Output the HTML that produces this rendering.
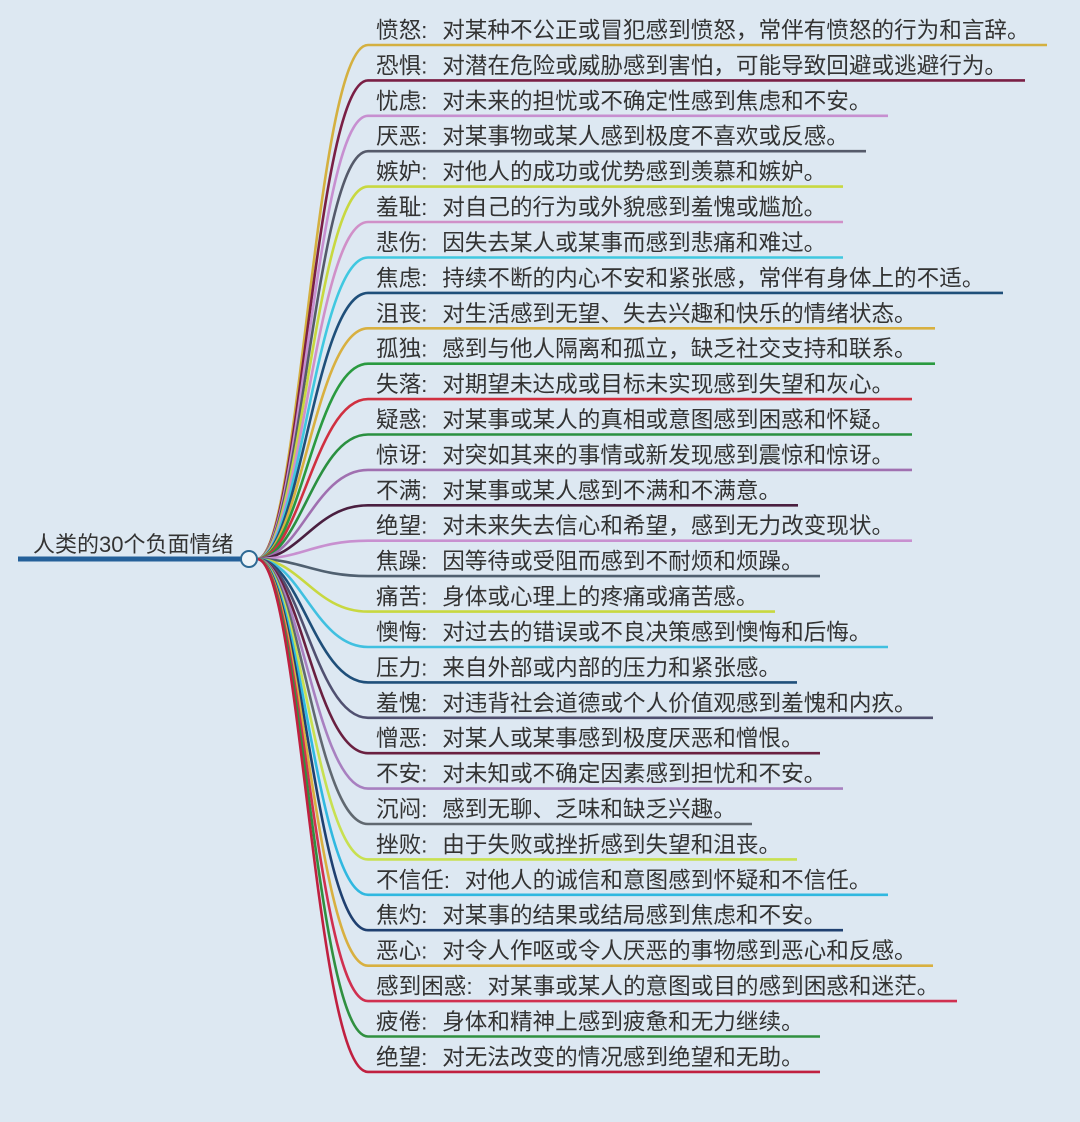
<!DOCTYPE html>
<html><head><meta charset="utf-8"><style>
html,body{margin:0;padding:0;background:#dde8f2;}
svg{display:block}
text{font-family:"Liberation Sans","Noto Sans CJK SC",sans-serif;fill:#333;}
</style></head><body>
<svg id="s" width="1080" height="1122" xmlns="http://www.w3.org/2000/svg">
<rect width="1080" height="1122" fill="#dde8f2"/>
<g id="g"></g>
<line x1="18" y1="559" x2="242" y2="559" stroke="#24609a" stroke-width="5"/>
<text x="33" y="552" font-size="22">人类的30个负面情绪</text>
<circle cx="249" cy="559" r="8" fill="#eef4f8" stroke="#2f6a94" stroke-width="2"/>
</svg>
<script>
var d=[
["愤怒","对某种不公正或冒犯感到愤怒，常伴有愤怒的行为和言辞。",1047,"#d4b040"],
["恐惧","对潜在危险或威胁感到害怕，可能导致回避或逃避行为。",1025,"#7a1f45"],
["忧虑","对未来的担忧或不确定性感到焦虑和不安。",888,"#c78fd0"],
["厌恶","对某事物或某人感到极度不喜欢或反感。",866,"#555a6a"],
["嫉妒","对他人的成功或优势感到羡慕和嫉妒。",843,"#c8d840"],
["羞耻","对自己的行为或外貌感到羞愧或尴尬。",843,"#d090c8"],
["悲伤","因失去某人或某事而感到悲痛和难过。",843,"#40c8e0"],
["焦虑","持续不断的内心不安和紧张感，常伴有身体上的不适。",1003,"#1f4f7a"],
["沮丧","对生活感到无望、失去兴趣和快乐的情绪状态。",935,"#d8b040"],
["孤独","感到与他人隔离和孤立，缺乏社交支持和联系。",935,"#2a9a40"],
["失落","对期望未达成或目标未实现感到失望和灰心。",912,"#d03040"],
["疑惑","对某事或某人的真相或意图感到困惑和怀疑。",912,"#2a9040"],
["惊讶","对突如其来的事情或新发现感到震惊和惊讶。",912,"#a070b0"],
["不满","对某事或某人感到不满和不满意。",798,"#4a1f40"],
["绝望","对未来失去信心和希望，感到无力改变现状。",912,"#c890d0"],
["焦躁","因等待或受阻而感到不耐烦和烦躁。",820,"#506070"],
["痛苦","身体或心理上的疼痛或痛苦感。",775,"#c8d840"],
["懊悔","对过去的错误或不良决策感到懊悔和后悔。",888,"#40c0e0"],
["压力","来自外部或内部的压力和紧张感。",797,"#1f4f7a"],
["羞愧","对违背社会道德或个人价值观感到羞愧和内疚。",933,"#505070"],
["憎恶","对某人或某事感到极度厌恶和憎恨。",820,"#6a2040"],
["不安","对未知或不确定因素感到担忧和不安。",843,"#a880c0"],
["沉闷","感到无聊、乏味和缺乏兴趣。",752,"#606870"],
["挫败","由于失败或挫折感到失望和沮丧。",797,"#c8e050"],
["不信任","对他人的诚信和意图感到怀疑和不信任。",888,"#30b8e0"],
["焦灼","对某事的结果或结局感到焦虑和不安。",843,"#1f4070"],
["恶心","对令人作呕或令人厌恶的事物感到恶心和反感。",933,"#d8b040"],
["感到困惑","对某事或某人的意图或目的感到困惑和迷茫。",957,"#d03050"],
["疲倦","身体和精神上感到疲惫和无力继续。",820,"#309040"],
["绝望","对无法改变的情况感到绝望和无助。",820,"#c02040"]];
var g=document.getElementById('g'),h="";
d.forEach(function(r,i){
 var y=(45+i*35.41).toFixed(1);
 h+='<path d="M257,559 C300,559 315,'+y+' 368,'+y+' L'+r[2]+','+y+'" fill="none" stroke="'+r[3]+'" stroke-width="2.6"/>';
 var n=r[0].length;
 h+='<text x="376" y="'+(y-7)+'" font-size="22.6">'+r[0]+':</text>';
 h+='<text x="'+(376+n*22.6+21)+'" y="'+(y-7)+'" font-size="22.6">'+r[1]+'</text>';
});
g.innerHTML=h;
</script>
</body></html>
